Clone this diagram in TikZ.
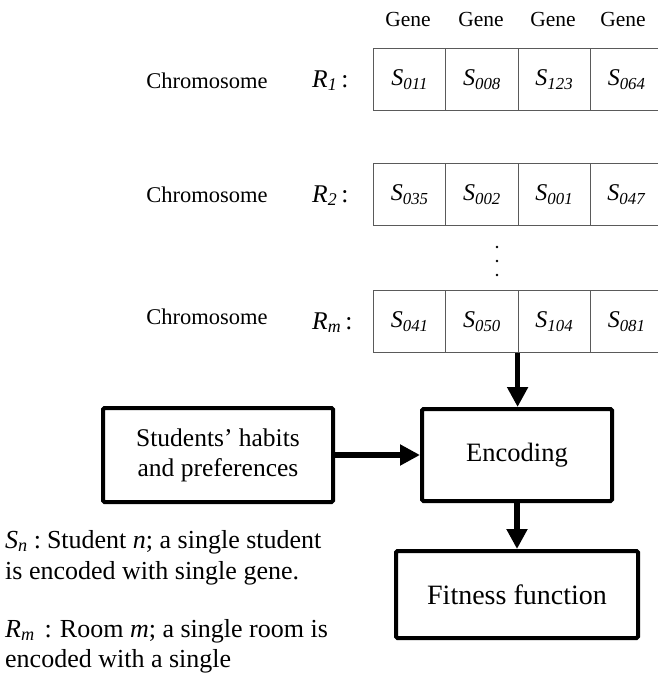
\documentclass[tikz,border=0pt]{standalone}
\usepackage{fontspec}
\setmainfont{Liberation Serif}
\usetikzlibrary{arrows.meta,calc}

\definecolor{gridgray}{RGB}{90,90,90}

\newcommand{\gs}[1]{\textit{S}\textsubscript{\textit{#1}}}

\begin{document}
\begin{tikzpicture}[x=1pt,y=-1pt,
  cellbox/.style={draw=gridgray, line width=1.1pt, minimum width=72.3pt,
    minimum height=62pt, inner sep=0pt, anchor=north west},
  celltext/.style={anchor=base, inner sep=0pt, font=\fontsize{24}{27}\selectfont},
  genelabel/.style={anchor=base, inner sep=0pt, font=\fontsize{21.5}{24}\selectfont},
  chromlabel/.style={anchor=base, inner sep=0pt, font=\fontsize{22.5}{26}\selectfont},
  rowlabel/.style={anchor=base west, inner sep=0pt, font=\fontsize{25.5}{28}\selectfont},
  block/.style={draw, line width=4pt, rounded corners=1.5pt, inner sep=0pt,
    align=center, font=\fontsize{25.5}{30}\selectfont},
  flow/.style={line width=5.5pt, -{Triangle[length=20pt,width=20pt]}},
  note/.style={anchor=base west, inner sep=0pt, font=\fontsize{26}{29}\selectfont}
]
\useasboundingbox (0,0) rectangle (658,680);

% gene column headings
\foreach \i/\x in {1/408,2/481,3/553,4/623}
  \node[genelabel] (g\i) at (\x,27) {Gene};

% chromosome rows: top edge, label baseline, genes
\foreach \r/\top/\base/\sub/\ga/\gb/\gc/\gd in {
    1/48/88/1/011/008/123/064,
    2/163/202/2/035/002/001/047,
    3/290/324/m/041/050/104/081} {
  \node[chromlabel] (chr\r) at (207,\base) {Chromosome};
  \node[rowlabel] (rl\r) at (312,\top+39) {\textit{R}\textsubscript{\textit{\sub}}\,:};
  \foreach \c/\s in {1/\ga,2/\gb,3/\gc,4/\gd} {
    \node[cellbox] (r\r c\c) at ({373+72.3*(\c-1)},\top) {};
    \node[celltext] (t\r c\c) at ($(r\r c\c.center)+(0,6)$) {\gs{\s}};
  }
}

% vertical ellipsis between the second and last chromosome
\foreach \y in {247,261,275}
  \fill (497,\y) circle (1.3pt);

% flow blocks
\node[block, minimum width=230pt, minimum height=94pt] (habits) at (218,455)
  {Students’ habits\\and preferences};
\node[block, minimum width=190pt, minimum height=92pt,
  font=\fontsize{26.5}{30}\selectfont] (enc) at (517,455) {Encoding};
\node[block, minimum width=242pt, minimum height=87pt,
  font=\fontsize{28}{32}\selectfont] (fit) at (517,594.5) {Fitness function};

\draw[flow] (r3c3.south west) -- (r3c3.south west |- enc.north);
\draw[flow] (habits.east) -- (enc.west);
\draw[flow] (enc.south) -- (fit.north);

% legend
\node[note] (n1) at (5,548) {\gs{n}\hspace{6pt}:\hspace{6pt}Student \textit{n}; a single student};
\node[note] (n2) at (5,579) {is encoded with single gene.};
\node[note] (n3) at (5,637) {\textit{R}\textsubscript{\textit{m}}\hspace{10pt}:\hspace{8pt}Room \textit{m}; a single room is};
\node[note] (n4) at (5,667) {encoded with a single};
\end{tikzpicture}
\end{document}
